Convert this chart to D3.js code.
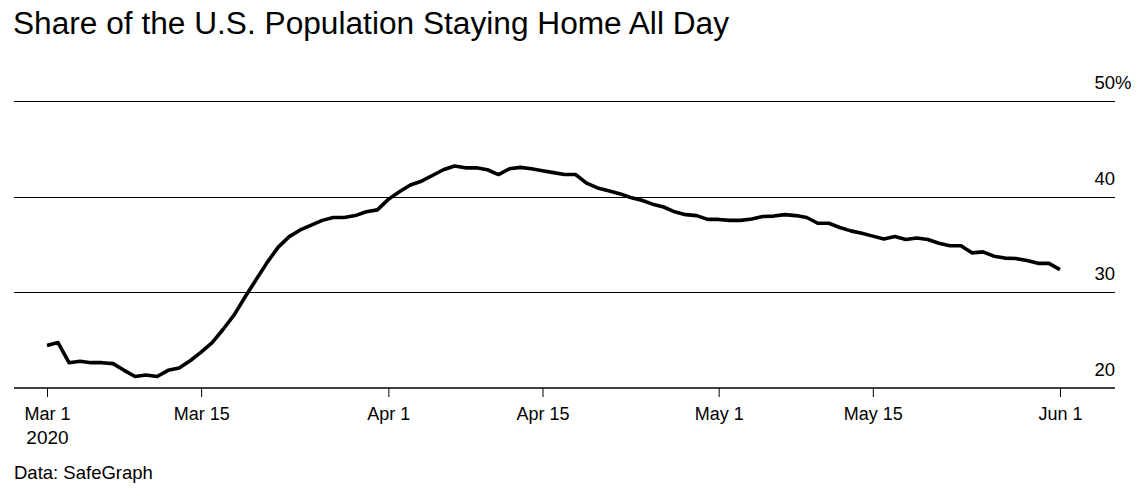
<!DOCTYPE html>
<html>
<head>
<meta charset="utf-8">
<script src="https://cdn.jsdelivr.net/npm/d3@7"></script>
<style>
  body { margin: 0; background: #fff; }
  svg text { font-family: "Liberation Sans", Arial, sans-serif; fill: #000; }
</style>
</head>
<body>
<div id="chart"></div>
<script>
// share of population staying home all day, daily from Mar 1 2020
var startDay = "2020-03-01"
var values = [
  24.4, 24.7, 22.6, 22.75, 22.6, 22.6, 22.5, 21.8, 21.15, 21.3,
  21.15, 21.8, 22.05, 22.8, 23.7, 24.7, 26.1, 27.6, 29.5, 31.3,
  33.1, 34.7, 35.8, 36.5, 37.0, 37.5, 37.8, 37.8, 38.0, 38.4,
  38.6, 39.7, 40.5, 41.2, 41.6, 42.2, 42.8, 43.2, 43.0, 43.0,
  42.8, 42.3, 42.9, 43.05, 42.9, 42.7, 42.5, 42.3, 42.3, 41.4,
  40.9, 40.6, 40.3, 39.9, 39.6, 39.2, 38.9, 38.4, 38.1, 38.0,
  37.6, 37.6, 37.5, 37.5, 37.65, 37.9, 37.95, 38.1, 38.0, 37.8,
  37.2, 37.2, 36.75, 36.4, 36.15, 35.85, 35.55, 35.8, 35.5, 35.65,
  35.5, 35.1, 34.85, 34.85, 34.1, 34.2, 33.75, 33.55, 33.5, 33.3,
  33.0, 33.0, 32.35
]
var yTicks = [20, 30, 40, 50]
var xTickDates = ["2020-03-01", "2020-03-15", "2020-04-01", "2020-04-15", "2020-05-01", "2020-05-15", "2020-06-01"]
var xTickLabels = ["Mar 1", "Mar 15", "Apr 1", "Apr 15", "May 1", "May 15", "Jun 1"]

var parse = d3.timeParse("%Y-%m-%d")
var start = parse(startDay)
var data = values.map(function(v, i) {
  return { date: d3.timeDay.offset(start, i), value: v }
})

var W = 1144, H = 498
var left = 14, right = 1115

var svg = d3.select("#chart").append("svg")
  .attr("width", W)
  .attr("height", H)

var x = d3.scaleTime()
  .domain([parse(xTickDates[0]), parse(xTickDates[xTickDates.length - 1])])
  .range([47, 1060])

var y = d3.scaleLinear()
  .domain([20, 50])
  .range([387.5, 101])

// title
svg.append("text")
  .attr("x", 13)
  .attr("y", 34)
  .attr("font-size", 31)
  .attr("textLength", 716)
  .attr("lengthAdjust", "spacingAndGlyphs")
  .text("Share of the U.S. Population Staying Home All Day")

// gridlines + right labels
var grid = svg.append("g")
grid.selectAll("line")
  .data(yTicks.filter(function(d) { return d > 20 }))
  .enter().append("line")
  .attr("x1", left).attr("x2", right)
  .attr("y1", function(d) { return Math.round(y(d)) + 0.5 })
  .attr("y2", function(d) { return Math.round(y(d)) + 0.5 })
  .attr("stroke", "#000")
  .attr("stroke-width", 1)

grid.selectAll("text")
  .data(yTicks)
  .enter().append("text")
  .attr("x", right)
  .attr("y", function(d) { return y(d) - 12 })
  .attr("font-size", 18.5)
  .attr("text-anchor", "end")
  .text(function(d) { return d })
  .each(function(d) {
    if (d === 50) {
      d3.select(this).append("tspan").text("%")
    }
  })
// let the % hang past the right edge
grid.selectAll("text").filter(function(d) { return d === 50 })
  .attr("text-anchor", "start")
  .attr("x", function() {
    var t = d3.select(this)
    var full = this.getComputedTextLength()
    var pct = t.select("tspan").node().getComputedTextLength()
    return right - (full - pct)
  })

// x axis
var xAxis = d3.axisBottom(x)
  .tickValues(xTickDates.map(parse))
  .tickSize(9)
  .tickFormat(function(d, i) { return xTickLabels[i] })

var gx = svg.append("g")
  .attr("transform", "translate(0," + 388 + ")")
  .call(xAxis)
gx.select(".domain").remove()
gx.selectAll(".tick line").attr("stroke", "#000").attr("stroke-width", 1)
gx.selectAll(".tick text")
  .attr("font-size", 18)
  .attr("font-family", "Liberation Sans, Arial, sans-serif")
  .attr("fill", "#000")
  .attr("y", 19)
gx.append("line")
  .attr("x1", left).attr("x2", right)
  .attr("y1", 0).attr("y2", 0)
  .attr("stroke", "#000")
  .attr("stroke-width", 1.6)

gx.select(".tick text")
  .append("tspan")
  .attr("x", 0)
  .attr("dy", "1.3em")
  .attr("font-size", 19)
  .text("2020")

// line
var line = d3.line()
  .x(function(d) { return x(d.date) })
  .y(function(d) { return y(d.value) })

svg.append("path")
  .datum(data)
  .attr("d", line)
  .attr("fill", "none")
  .attr("stroke", "#000")
  .attr("stroke-width", 3.6)
  .attr("stroke-linejoin", "round")

// source
svg.append("text")
  .attr("x", 14)
  .attr("y", 479)
  .attr("font-size", 18.5)
  .text("Data: SafeGraph")
</script>
</body>
</html>
